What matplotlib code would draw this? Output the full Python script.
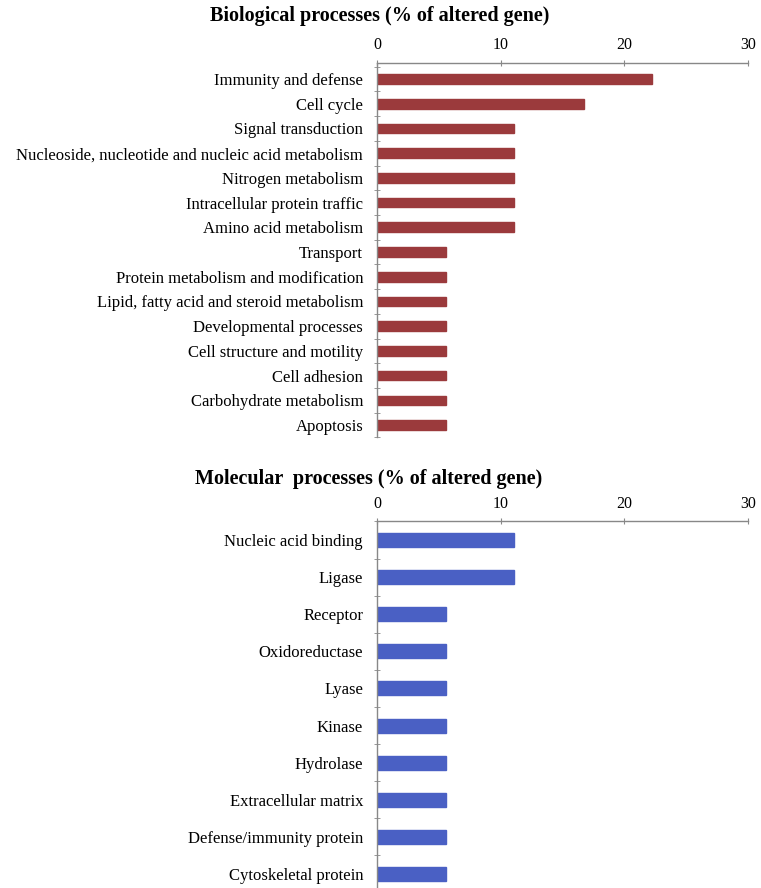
import matplotlib
matplotlib.use("Agg")
import matplotlib.pyplot as plt
import numpy as np

plt.rcParams['font.family'] = ['Liberation Serif', 'DejaVu Serif']

bio_categories = ["Immunity and defense", "Cell cycle", "Signal transduction",
                  "Nucleoside, nucleotide and nucleic acid metabolism", "Nitrogen metabolism",
                  "Intracellular protein traffic", "Amino acid metabolism", "Transport",
                  "Protein metabolism and modification", "Lipid, fatty acid and steroid metabolism",
                  "Developmental processes", "Cell structure and motility", "Cell adhesion",
                  "Carbohydrate metabolism", "Apoptosis"]
bio_values = [22.2, 16.7, 11.1, 11.1, 11.1, 11.1, 11.1, 5.6, 5.6, 5.6, 5.6, 5.6, 5.6, 5.6, 5.6]

mol_categories = ["Nucleic acid binding", "Ligase", "Receptor", "Oxidoreductase", "Lyase",
                  "Kinase", "Hydrolase", "Extracellular matrix", "Defense/immunity protein",
                  "Cytoskeletal protein"]
mol_values = [11.1, 11.1, 5.6, 5.6, 5.6, 5.6, 5.6, 5.6, 5.6, 5.6]

xticks = [0, 10, 20, 30]

W, H = 761, 888
fig = plt.figure(figsize=(W / 100, H / 100), dpi=100)


def make_axes(rect, cats, vals, color, height, top_lim):
    ax = fig.add_axes(rect)
    y = np.arange(len(cats))
    ax.barh(y, vals, height=height, color=color, edgecolor=color)
    ax.set_xlim(0, 30)
    ax.set_ylim(len(cats) - 0.5, top_lim)
    ax.set_yticks(y)
    ax.set_yticklabels(cats, fontsize=12)
    ax.set_yticks(np.arange(len(cats) + 1) - 0.5, minor=True)
    ax.tick_params(axis='y', which='major', length=0, pad=10)
    ax.tick_params(axis='y', which='minor', length=4, color='#888888', direction='inout')
    ax.xaxis.tick_top()
    ax.set_xticks(xticks)
    ax.set_xticklabels([str(t) for t in xticks], fontsize=11.5)
    ax.tick_params(axis='x', length=4, color='#888888', direction='inout', pad=5)
    for s in ['right', 'bottom']:
        ax.spines[s].set_visible(False)
    for s in ['top', 'left']:
        ax.spines[s].set_color('#888888')
        ax.spines[s].set_linewidth(1.0)
    return ax


def px_rect(left, top, right, bottom):
    return [left / W, 1 - bottom / H, (right - left) / W, (bottom - top) / H]


make_axes(px_rect(377, 63, 748, 437.4), bio_categories, bio_values, '#9B3A3C', 0.39, -0.647)
make_axes(px_rect(377, 521.4, 748, 892.6), mol_categories, mol_values, '#4A60C4', 0.38, -0.5)

fig.text(380 / W, 1 - 16 / H, "Biological processes (% of altered gene)", ha='center', va='center',
         fontsize=14.5, fontweight='bold')
fig.text(369 / W, 1 - 479 / H, "Molecular  processes (% of altered gene)", ha='center', va='center',
         fontsize=14.5, fontweight='bold')

fig.savefig("out.png", dpi=100)
